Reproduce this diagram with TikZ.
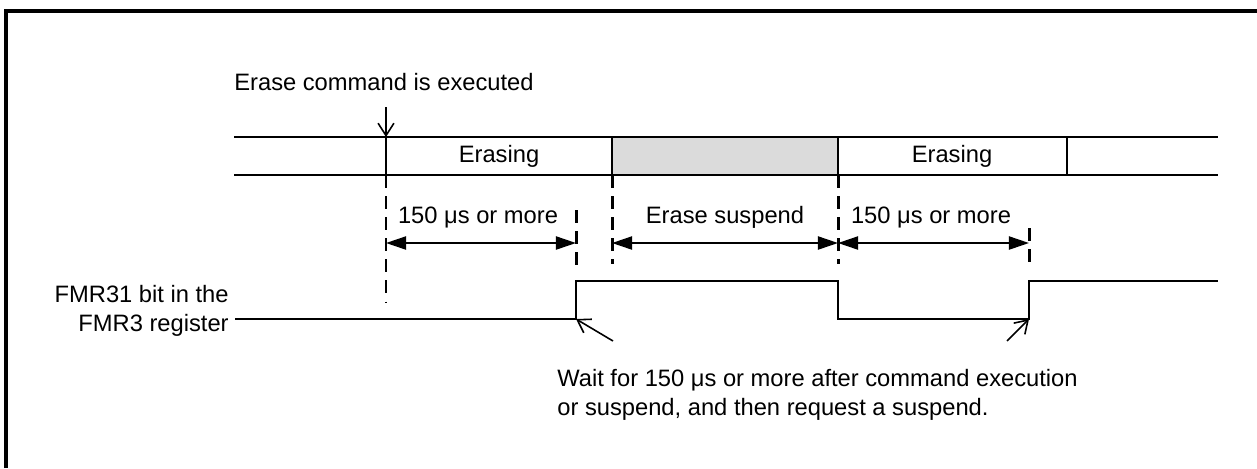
\documentclass[tikz,border=0pt]{standalone}
\usepackage{fontspec}
\setmainfont{Liberation Sans}
\usetikzlibrary{arrows.meta,positioning,calc}

\begin{document}
\begin{tikzpicture}[
    x=0.02cm, y=-0.02cm,
    txt/.style={font=\fontsize{13.5}{16.5}\selectfont, inner sep=0pt},
    band/.style={line width=1.1pt},
    guide/.style={line width=1.7pt, dash pattern=on 7.4pt off 4.6pt},
    dim/.style={{Triangle[length=11.5pt,width=7.5pt]}-{Triangle[length=11.5pt,width=7.5pt]}, line width=1.1pt},
    pointer/.style={-{Straight Barb[length=7pt,width=9pt]}, line width=0.9pt},
    signal/.style={line width=1.1pt}
]
\useasboundingbox (0,0) rectangle (1257,468);
\draw[line width=1.9pt] (6,468) -- (6,11) -- (1257,11);

% time points on the band
\coordinate (bandL) at (234,137);
\coordinate (bandR) at (1218,175);
\coordinate (start) at (386,137);
\coordinate (susp) at (612,137);
\coordinate (resume) at (838,137);
\coordinate (stop) at (1067,137);

\fill[black!14] (susp) rectangle (838,175);
\draw[band] (bandL) -- (1218,137);
\draw[band] (234,175) -- (bandR);
\foreach \t in {start,susp,resume,stop}
    \draw[band] (\t) -- ++(0,38);

\node[txt] (erasingA) at (499,156) {Erasing};
\node[txt] (erasingB) at (952,156) {Erasing};

\node[txt, anchor=base west] (cmd) at (234,90) {Erase command is executed};
\coordinate (cmdtip) at (386,107);
\draw[pointer] (cmdtip) -- (start);

% guide lines
\draw[guide] (386,175) -- (386,303);
\draw[guide] (576,210) -- (576,266);
\draw[guide] (612,175) -- (612,264);
\draw[guide] (838,175) -- (838,264);
\draw[guide] (1029,228) -- (1029,267);

\coordinate (dA) at (386,243);
\coordinate (dB) at (576,243);
\coordinate (dC) at (612,243);
\coordinate (dD) at (838,243);
\coordinate (dE) at (1029,243);
\draw[dim] (dA) -- (dB);
\draw[dim] (dC) -- (dD);
\draw[dim] (dD) -- (dE);

\node[txt] (waitA) at (478,217) {150 μs or more};
\node[txt] (hold) at (725,217) {Erase suspend};
\node[txt] (waitB) at (931,217) {150 μs or more};

% FMR31 bit
\node[txt, align=right, anchor=east] (bit) at (229,311) {FMR31 bit in the\\FMR3 register};
\coordinate (riseA) at (576,319);
\coordinate (riseB) at (1029,319);
\draw[signal] (235,319) -- (riseA) -- (576,281) -- (838,281) -- (838,319)
    -- (riseB) -- (1029,281) -- (1218,281);

\node[txt, align=left, anchor=north west] (note) at (557,369)
    {Wait for 150 μs or more after command execution\\or suspend, and then request a suspend.};
\coordinate (tailA) at (613,341);
\coordinate (tailB) at (1007,341);
\draw[pointer] (tailA) -- (riseA);
\draw[pointer] (tailB) -- (riseB);
\end{tikzpicture}
\end{document}
